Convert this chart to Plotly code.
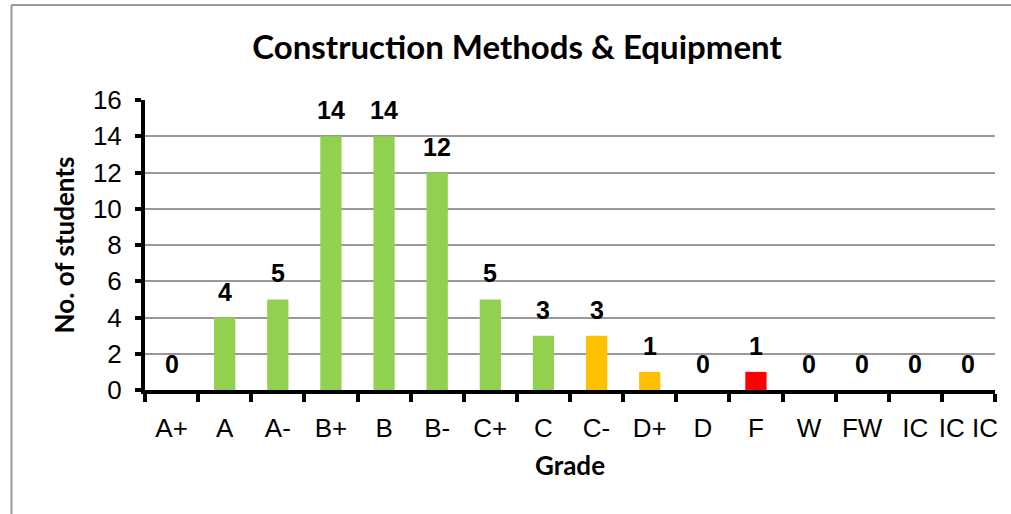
import plotly.graph_objects as go

grades = ["A+", "A", "A-", "B+", "B", "B-", "C+", "C", "C-", "D+", "D", "F", "W", "FW", "IC", "IC IC"]
students = [0, 4, 5, 14, 14, 12, 5, 3, 3, 1, 0, 1, 0, 0, 0, 0]
bar_colors = ["#92D050"] * 8 + ["#FFC000", "#FFC000", "#FFC000", "#FF0000", "#FF0000", "#FF0000", "#FF0000", "#FF0000"]

fig = go.Figure()
fig.add_trace(go.Bar(
    x=grades, y=students, marker=dict(color=bar_colors, line=dict(width=0)),
    width=0.4, hoverinfo="x+y",
))

for g, v in zip(grades, students):
    fig.add_annotation(x=g, y=v, text=str(v), showarrow=False, yanchor="bottom", yshift=10,
                       font=dict(family="Liberation Sans, Arial", size=25, color="black", weight="bold"))

L, R, T, B = 145, 995, 100, 390
W, H = 1011, 514
def px(x):
    return (x - L) / (R - L)
def py(y):
    return (B - y) / (B - T)

fig.add_shape(type="line", xref="paper", yref="paper", x0=px(11.5), x1=px(1015), y0=py(5), y1=py(5),
              line=dict(color="#999999", width=2))
fig.add_shape(type="line", xref="paper", yref="paper", x0=px(11.5), x1=px(11.5), y0=py(5), y1=py(520),
              line=dict(color="#999999", width=2))

fig.update_layout(
    width=W, height=H,
    margin=dict(l=L, r=W - R, t=T, b=H - B, autoexpand=False),
    paper_bgcolor="white", plot_bgcolor="white",
    showlegend=False, bargap=0.6,
    title=dict(text="<b>Construction Methods & Equipment</b>", x=px(517), xanchor="center", xref="paper",
               y=1 - 47 / H, yanchor="middle",
               font=dict(family="Lato, Calibri, sans-serif", size=33, color="black")),
    xaxis=dict(
        type="category", tickson="boundaries", ticks="outside", ticklen=8, tickwidth=4, tickcolor="black",
        showline=True, linecolor="black", linewidth=4, showgrid=False, tickangle=0, automargin=False,
        ticklabelstandoff=12,
        tickfont=dict(family="Liberation Sans, Arial", size=26, color="black"),
        title=dict(text="<b>Grade</b>", font=dict(family="Lato, Calibri, sans-serif", size=26, color="black"), standoff=16),
        range=[-0.5, 15.5],
    ),
    yaxis=dict(
        range=[0, 16], dtick=2, ticks="outside", ticklen=6, tickwidth=4, tickcolor="black",
        showline=True, linecolor="black", linewidth=4, automargin=False,
        ticklabelstandoff=8,
        showgrid=True, gridcolor="#999999", gridwidth=1.5, zeroline=False,
        tickfont=dict(family="Liberation Sans, Arial", size=26, color="black"),
        title=dict(text="<b>No. of students</b>", font=dict(family="Lato, Calibri, sans-serif", size=26, color="black"), standoff=12),
    ),
)

fig.write_html("out.html", config={"displayModeBar": False}, post_script="document.body.style.margin='0px';")
